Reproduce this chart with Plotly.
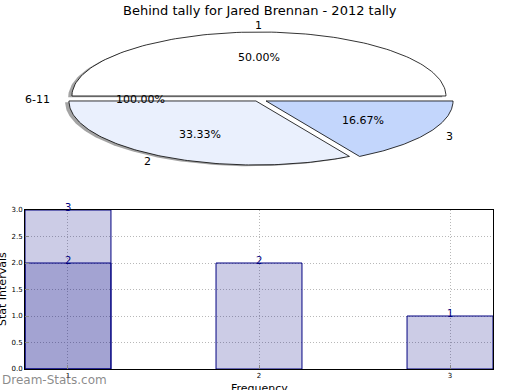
import numpy as np
import plotly.graph_objects as go

# ---------------- data ----------------
title_text = "Behind tally for Jared Brennan - 2012 tally"
pie_labels = ["1", "2", "3"]
pie_values = [3, 2, 1]
extra_label = "6-11"
extra_pct = "100.00%"

bar_x = [1, 2, 3]
bar_y = [3, 2, 1]
bar2_x = [1]
bar2_y = [2]
y_ticks = [0.0, 0.5, 1.0, 1.5, 2.0, 2.5, 3.0]
x_ticks = [1, 2, 3]

# ---------------- style ----------------
FONT = "DejaVu Sans"
pie_colors = ["#ffffff", "#eaf0fd", "#c3d6fc"]
pie_explode = [(0.005, 0.047), (-0.011, -0.031), (0.043, -0.031)]
shadow_off = (-0.02, -0.02)
W, H = 520, 390
CX, CY, RX, RY = 258, 99, 187, 64   # pie centre / radii in pixels
PIE_TOP, PIE_BOTTOM = 0, 200        # pixel band used for pie axes

fig = go.Figure()

# ---------------- pie (elliptical, drawn on its own axes) ----------------
total = float(sum(pie_values))
fracs = [v / total for v in pie_values]
start = 0.0
wedges = []
for f in fracs:
    a0, a1 = start, start + 360.0 * f
    wedges.append((a0, a1))
    start = a1


def wedge_poly(a0, a1, dx, dy):
    t = np.radians(np.linspace(a0, a1, 120))
    xs = np.concatenate([[dx], dx + np.cos(t), [dx]])
    ys = np.concatenate([[dy], dy + np.sin(t), [dy]])
    return xs, ys

# shadows
for i in range(2):
    a0, a1 = wedges[i]
    dx, dy = pie_explode[i]
    xs, ys = wedge_poly(a0, a1, dx + shadow_off[0], dy + shadow_off[1])
    fig.add_trace(go.Scatter(x=xs, y=ys, xaxis="x2", yaxis="y2", mode="lines",
                             fill="toself", fillcolor="rgba(90,90,90,0.55)",
                             line=dict(width=0), hoverinfo="skip", showlegend=False))

for i, (a0, a1) in enumerate(wedges):
    dx, dy = pie_explode[i]
    xs, ys = wedge_poly(a0, a1, dx, dy)
    fig.add_trace(go.Scatter(x=xs, y=ys, xaxis="x2", yaxis="y2", mode="lines",
                             fill="toself", fillcolor=pie_colors[i],
                             line=dict(color="#000000", width=0.8),
                             hoverinfo="skip", showlegend=False))

annotations = []
for i, (a0, a1) in enumerate(wedges):
    dx, dy = pie_explode[i]
    mid = np.radians((a0 + a1) / 2)
    lx, ly = dx + 1.1 * np.cos(mid), dy + 1.1 * np.sin(mid)
    px, py = dx + 0.6 * np.cos(mid), dy + 0.6 * np.sin(mid)
    anchor = "left" if np.cos(mid) > 1e-6 else ("right" if np.cos(mid) < -1e-6 else "center")
    annotations.append(dict(x=lx, y=ly, xref="x2", yref="y2", text=pie_labels[i],
                            showarrow=False, xanchor=anchor, yanchor="middle",
                            font=dict(family=FONT, size=11, color="#000000")))
    annotations.append(dict(x=px, y=py, xref="x2", yref="y2",
                            text="%.2f%%" % (100 * fracs[i]),
                            showarrow=False, xanchor="center", yanchor="middle",
                            font=dict(family=FONT, size=11, color="#000000")))
# degenerate extra slice at 180 degrees
annotations.append(dict(x=-1.1, y=0, xref="x2", yref="y2", text=extra_label,
                        showarrow=False, xanchor="right", yanchor="middle",
                        font=dict(family=FONT, size=11, color="#000000")))
annotations.append(dict(x=-0.63, y=0, xref="x2", yref="y2", text=extra_pct,
                        showarrow=False, xanchor="center", yanchor="middle",
                        font=dict(family=FONT, size=11, color="#000000")))

# ---------------- bars ----------------
bar_fill = "rgba(0,0,128,0.2)"
fig.add_trace(go.Bar(x=bar_x, y=bar_y, width=0.45, marker=dict(color=bar_fill,
                     line=dict(color="#000080", width=1)), hoverinfo="skip",
                     showlegend=False))
fig.add_trace(go.Bar(x=bar2_x, y=bar2_y, width=0.45, marker=dict(color=bar_fill,
                     line=dict(color="#000080", width=1)), hoverinfo="skip",
                     showlegend=False))
for xs_, ys_ in ((bar_x, bar_y), (bar2_x, bar2_y)):
    for xv, yv in zip(xs_, ys_):
        annotations.append(dict(x=xv, y=yv, xref="x", yref="y", text=str(yv),
                                showarrow=False, yanchor="bottom", yshift=-5,
                                font=dict(family=FONT, size=10, color="#000080")))

# titles and watermark
annotations.append(dict(x=0.5, y=1 - 10 / H, xref="paper", yref="paper", text=title_text,
                        showarrow=False, xanchor="center", yanchor="middle",
                        font=dict(family=FONT, size=13, color="#000000")))
annotations.append(dict(x=259 / W, y=1 - 388 / H, xref="paper", yref="paper", text="Frequency",
                        showarrow=False, xanchor="center", yanchor="middle",
                        font=dict(family=FONT, size=11, color="#000000")))
annotations.append(dict(x=2 / W, y=1 - 289 / H, xref="paper", yref="paper", text="Stat Intervals",
                        showarrow=False, xanchor="center", yanchor="middle", textangle=-90,
                        font=dict(family=FONT, size=11, color="#000000")))
annotations.append(dict(x=0 / W, y=1 - 380 / H, xref="paper", yref="paper", text="Dream-Stats.com",
                        showarrow=False, xanchor="left", yanchor="middle",
                        font=dict(family=FONT, size=12, color="rgba(100,100,100,0.75)")))

x_left, x_right = 25, 493
y_top, y_bot = 210, 369
fig.update_layout(
    width=W, height=H, margin=dict(l=0, r=0, t=0, b=0, autoexpand=False),
    paper_bgcolor="white", plot_bgcolor="white",
    barmode="overlay", showlegend=False,
    annotations=annotations,
    xaxis=dict(domain=[x_left / W, x_right / W], range=[0.775, 3.225],
               tickvals=x_ticks, ticktext=[str(t) for t in x_ticks],
               showgrid=True, gridcolor="#b8b8b8", griddash="1px,2px", gridwidth=1,
               showline=True, linecolor="black", linewidth=1, mirror=True,
               ticks="inside", ticklen=4, tickcolor="#888888",
               tickfont=dict(family=FONT, size=7, color="#000000"), zeroline=False,
               automargin=False, fixedrange=True),
    yaxis=dict(domain=[1 - y_bot / H, 1 - y_top / H], range=[0, 3],
               tickvals=y_ticks, ticktext=["%.1f" % t for t in y_ticks],
               showgrid=True, gridcolor="#b8b8b8", griddash="1px,2px", gridwidth=1,
               showline=True, linecolor="black", linewidth=1, mirror=True,
               ticks="inside", ticklen=4, tickcolor="#888888",
               tickfont=dict(family=FONT, size=7, color="#000000"), zeroline=False,
               automargin=False, fixedrange=True),
    xaxis2=dict(domain=[0, 1], range=[-CX / RX, (W - CX) / RX], visible=False,
                anchor="y2", fixedrange=True, automargin=False),
    yaxis2=dict(domain=[1 - PIE_BOTTOM / H, 1 - PIE_TOP / H],
                range=[(CY - PIE_BOTTOM) / RY, (CY - PIE_TOP) / RY], visible=False,
                anchor="x2", fixedrange=True, automargin=False),
)

fig.write_html("out.html", config={"displayModeBar": False},
               post_script="document.body.style.margin='0';document.body.style.overflow='hidden';")
